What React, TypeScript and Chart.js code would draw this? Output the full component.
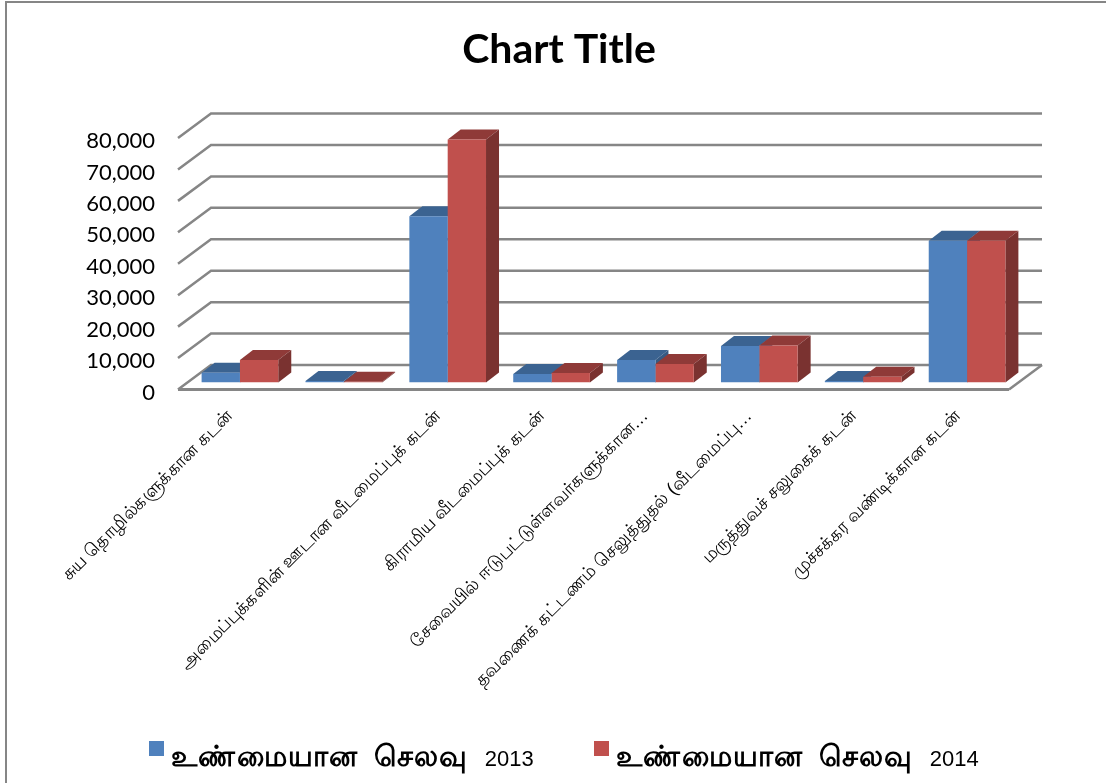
import React, { useEffect, useRef } from "react";
import { Chart, registerables } from "chart.js";

Chart.register(...registerables);

const labels = [
  "சுய தொழில்களுக்கான கடன்",
  "",
  "அமைப்புக்களின் ஊடான வீடமைப்புக் கடன்",
  "கிராமிய வீடமைப்புக் கடன்",
  "சேவையில் ஈடுபட்டுள்ளவர்களுக்கான…",
  "தவணைக் கட்டணம் செலுத்துதல் (வீடமைப்பு…",
  "மருத்துவச் சலுகைக் கடன்",
  "முச்சக்கர வண்டிக்கான கடன்",
];
const series2013 = [3100, 500, 52900, 2700, 7150, 11600, 500, 45100];
const series2014 = [7150, 200, 77300, 3000, 5900, 11800, 1850, 45100];
const seriesNames = ["உண்மையான செலவு 2013", "உண்மையான செலவு 2014"];
const frontColors = ["#4F81BD", "#C0504D"];
const topColors = ["#3B6391", "#8F3A38"];
const sideColors = ["#365A84", "#7A3230"];
const titleText = "Chart Title";

const WALL_DX = 33;
const WALL_DY = -24.5;
const BAR_DX = 10;
const BAR_DY = -7;
const DEPTH_DX = 13;
const DEPTH_DY = -10;
const GRID = "#868686";
const LEGEND_X = [149, 594];
const LEGEND_Y = 741;

const bars3d = {
  id: "bars3d",
  beforeDatasetsDraw(chart: any) {
    const { ctx, scales, chartArea } = chart;
    const y = scales.y;
    ctx.save();
    ctx.strokeStyle = GRID;
    ctx.lineWidth = 2.5;
    y.ticks.forEach((t: any) => {
      const py = y.getPixelForValue(t.value);
      ctx.beginPath();
      ctx.moveTo(chartArea.left, py);
      ctx.lineTo(chartArea.left + WALL_DX, py + WALL_DY);
      ctx.lineTo(chartArea.right + WALL_DX, py + WALL_DY);
      ctx.stroke();
    });
    const p0 = y.getPixelForValue(0);
    ctx.beginPath();
    ctx.moveTo(chartArea.right + WALL_DX, p0 + WALL_DY);
    ctx.lineTo(chartArea.right, p0);
    ctx.stroke();
    ctx.lineWidth = 3;
    ctx.beginPath();
    ctx.moveTo(chartArea.left, p0);
    ctx.lineTo(chartArea.right, p0);
    ctx.stroke();
    ctx.restore();
    ctx.save();
    ctx.translate(BAR_DX, BAR_DY);
    chart.getSortedVisibleDatasetMetas().forEach((m: any) => {
      m.data.forEach((el: any) => {
        const p = el.getProps(["x", "y", "base", "width"], true);
        const l = p.x - p.width / 2;
        const r = p.x + p.width / 2;
        ctx.fillStyle = topColors[m.index];
        ctx.beginPath();
        ctx.moveTo(l, p.y);
        ctx.lineTo(l + DEPTH_DX, p.y + DEPTH_DY);
        ctx.lineTo(r + DEPTH_DX, p.y + DEPTH_DY);
        ctx.lineTo(r, p.y);
        ctx.closePath();
        ctx.fill();
        ctx.fillStyle = sideColors[m.index];
        ctx.beginPath();
        ctx.moveTo(r, p.y);
        ctx.lineTo(r + DEPTH_DX, p.y + DEPTH_DY);
        ctx.lineTo(r + DEPTH_DX, p.base + DEPTH_DY);
        ctx.lineTo(r, p.base);
        ctx.closePath();
        ctx.fill();
      });
    });
  },
  afterDatasetsDraw(chart: any) {
    chart.ctx.restore();
  },
  afterDraw(chart: any) {
    const { ctx } = chart;
    ctx.save();
    ctx.textBaseline = "alphabetic";
    chart.data.datasets.forEach((d: any, i: number) => {
      const x = LEGEND_X[i];
      ctx.fillStyle = d.backgroundColor;
      ctx.fillRect(x, LEGEND_Y, 15, 15);
      const cut = d.label.lastIndexOf(" ");
      ctx.fillStyle = "#000";
      ctx.font = "bold 29px 'Liberation Sans', 'Noto Sans'";
      ctx.wordSpacing = "6px";
      ctx.letterSpacing = "1.3px";
      const tamil = d.label.slice(0, cut);
      ctx.fillText(tamil, x + 22, 766);
      const w = ctx.measureText(tamil).width;
      ctx.wordSpacing = "0px";
      ctx.letterSpacing = "0px";
      ctx.font = "22px 'Liberation Sans'";
      ctx.fillText(d.label.slice(cut + 1), x + 22 + w + 16, 766);
    });
    ctx.restore();
  },
};

export default function App() {
  const ref = useRef<HTMLCanvasElement | null>(null);
  useEffect(() => {
    if (!ref.current) return;
    const chart = new Chart(ref.current, {
      type: "bar",
      data: {
        labels,
        datasets: [
          { label: seriesNames[0], data: series2013, backgroundColor: frontColors[0] },
          { label: seriesNames[1], data: series2014, backgroundColor: frontColors[1] },
        ],
      },
      plugins: [bars3d],
      options: {
        responsive: false,
        animation: false,
        layout: { padding: { left: 12, right: 0, top: 0, bottom: 0 } },
        datasets: { bar: { categoryPercentage: 0.738, barPercentage: 1 } },
        plugins: {
          tooltip: { enabled: false },
          legend: { display: false },
          title: {
            display: true,
            text: titleText,
            color: "#000",
            font: { family: "Lato, Carlito", size: 41, weight: "bold" },
            padding: { top: 25.4, bottom: 63.4 },
          },
        },
        scales: {
          x: {
            grid: { display: false },
            border: { display: false },
            ticks: {
              maxRotation: 45,
              minRotation: 45,
              autoSkip: false,
              color: "#000",
              labelOffset: 0,
              padding: 8,
              font: { family: "'Liberation Sans', 'Noto Sans'", size: 18 },
            },
            afterFit(s: any) {
              s.height = 393.5;
            },
          },
          y: {
            min: 0,
            max: 80000,
            grid: { display: false },
            border: { display: false },
            ticks: {
              stepSize: 10000,
              color: "#000",
              padding: 15,
              labelOffset: 3,
              font: { family: "Lato, Carlito", size: 22 },
              callback: (v: any) => Number(v).toLocaleString("en-US"),
            },
            afterFit(s: any) {
              s.width = 166;
            },
          },
          spacer: {
            position: "right",
            display: true,
            grid: { display: false },
            border: { display: false },
            ticks: { display: false },
            afterFit(s: any) {
              s.width = 97;
            },
          },
        },
      },
    } as any);
    return () => chart.destroy();
  }, []);
  return (
    <div style={{ position: "absolute", left: 0, top: 0, width: 1106, height: 783, overflow: "hidden", background: "#fff" }}>
      <canvas ref={ref} width={1106} height={783} style={{ display: "block" }} />
      <div style={{ position: "absolute", left: 5, top: 1, right: 0, bottom: 0, borderLeft: "2px solid #868686", borderTop: "2px solid #868686" }} />
    </div>
  );
}
